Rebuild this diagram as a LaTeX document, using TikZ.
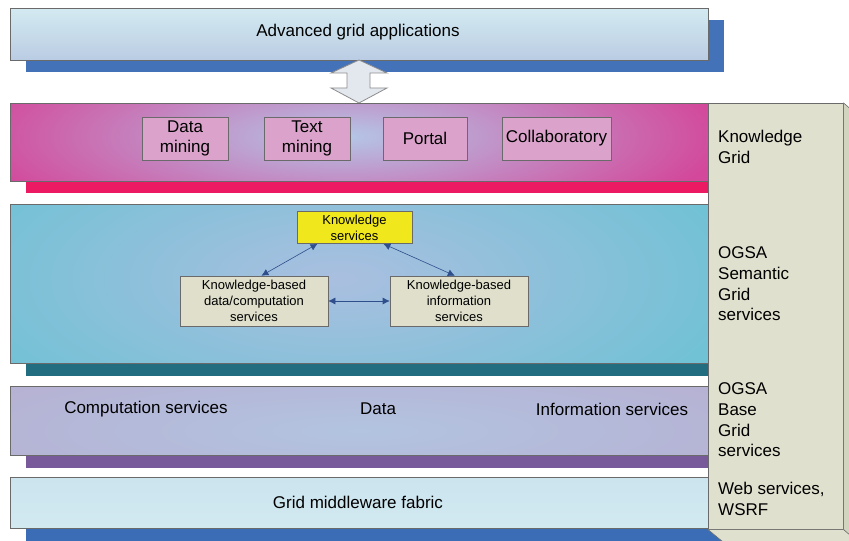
\documentclass[tikz,border=0pt]{standalone}
\usepackage{fontspec}
\setmainfont{Liberation Sans}
\usetikzlibrary{arrows.meta,calc}
\definecolor{topA}{HTML}{D3EAF1}
\definecolor{topB}{HTML}{BACCE3}
\definecolor{topShadow}{HTML}{4472B8}
\definecolor{pinkOut}{HTML}{D3489B}
\definecolor{pinkIn}{HTML}{B4C6E6}
\definecolor{pinkShadow}{HTML}{EC1A63}
\definecolor{pinkBox}{HTML}{DBA3CB}
\definecolor{cyanOut}{HTML}{68C2D3}
\definecolor{cyanIn}{HTML}{AABFE0}
\definecolor{cyanShadow}{HTML}{226E80}
\definecolor{purpOut}{HTML}{B9A6CC}
\definecolor{purpIn}{HTML}{B2C4E0}
\definecolor{purpShadow}{HTML}{78599A}
\definecolor{botA}{HTML}{CBE4EE}
\definecolor{botB}{HTML}{D2E9F0}
\definecolor{botShadow}{HTML}{3B6DB7}
\definecolor{panelFill}{HTML}{DFE0CD}
\definecolor{panelSide}{HTML}{D3D4BF}
\definecolor{edgeGray}{HTML}{6A6A6A}
\definecolor{ksYellow}{HTML}{F0E81C}
\definecolor{beigeBox}{HTML}{DFDFCC}
\definecolor{arrBlue}{HTML}{2E4E8C}
\definecolor{bigArrFill}{HTML}{E3E8EF}
\definecolor{bigArrEdge}{HTML}{8C8C8C}
\begin{document}
\begin{tikzpicture}[x=1bp,y=-1bp,
  bigtext/.style={font=\fontsize{17bp}{20.6bp}\selectfont},
  smalltext/.style={font=\fontsize{13bp}{16bp}\selectfont},
  layer/.style={draw=edgeGray, line width=0.6bp, anchor=north west, inner sep=0pt, minimum width=698bp, bigtext},
  pbox/.style={draw=edgeGray, line width=0.6bp, fill=pinkBox, minimum height=43bp, inner sep=0pt, align=center, bigtext},
  cbox/.style={draw=edgeGray, line width=0.6bp, inner sep=0pt, align=center, smalltext},
  biarrow/.style={{Latex[length=7bp,width=7bp]}-{Latex[length=7bp,width=7bp]}, draw=arrBlue, line width=0.6bp},
  paneltext/.style={anchor=west, inner sep=0pt, align=left, bigtext},
  plain/.style={inner sep=0pt, bigtext}]
\useasboundingbox (0,0) rectangle (849,541);
\clip (0,0) rectangle (849,541);

% top box
\fill[topShadow] (26,20) rectangle (724,72);
\node[layer, minimum height=52bp, top color=topA, bottom color=topB] (apps) at (10,8) {};
\node[plain] (appstxt) at (358,32) {Advanced grid applications};

% big double arrow
\draw[fill=bigArrFill, draw=bigArrEdge, line width=0.8bp] (359,60) -- (387,73) -- (370,73) -- (370,88) -- (387,88) -- (359,103) -- (331,88) -- (347,88) -- (347,73) -- (331,73) -- cycle;

% pink layer
\fill[pinkShadow] (26,181) rectangle (708,193);
\node[layer, minimum height=78bp, fill=pinkOut,
  path picture={\shade[inner color=pinkIn, outer color=pinkOut] ($(path picture bounding box.center)+(-15,-6)$) ellipse [x radius=380bp, y radius=100bp];}] (kg) at (10,103) {};
\node[pbox, minimum width=86bp] (dm) at (185,138.5) {Data\\mining};
\node[pbox, minimum width=86bp] (tm) at (307,138.5) {Text\\mining};
\node[pbox, minimum width=84bp] (portal) at (425,138.5) {Portal};
\node[pbox, minimum width=109bp] (collab) at (556.5,138.5) {Collaboratory};

% cyan layer
\fill[cyanShadow] (26,363) rectangle (708,376);
\node[layer, minimum height=159bp, fill=cyanOut,
  path picture={\shade[inner color=cyanIn, outer color=cyanOut] ($(path picture bounding box.center)+(-20,-5)$) ellipse [x radius=470bp, y radius=190bp];}] (sem) at (10,204) {};
\node[cbox, fill=ksYellow, minimum width=115bp, minimum height=32bp] (ks) at (354.5,227.5) {Knowledge\\services};
\node[cbox, fill=beigeBox, minimum width=148bp, minimum height=50bp] (kd) at (254,301) {Knowledge-based\\data/computation\\services};
\node[cbox, fill=beigeBox, minimum width=138bp, minimum height=50bp] (ki) at (459,301) {Knowledge-based\\information\\services};
\draw[biarrow] ($(ks.south west)!0.18!(ks.south east)$) -- ($(kd.north west)!0.55!(kd.north east)$);
\draw[biarrow] ($(ks.south west)!0.75!(ks.south east)$) -- ($(ki.north west)!0.47!(ki.north east)$);
\draw[biarrow] (kd.east) -- (ki.west);

% purple layer
\fill[purpShadow] (26,455) rectangle (708,468);
\node[layer, minimum height=69bp, fill=purpOut,
  path picture={\shade[inner color=purpIn, outer color=purpOut] ($(path picture bounding box.center)+(0,10)$) ellipse [x radius=700bp, y radius=120bp];}] (base) at (10,386) {};
\node[plain] (comp) at (146,409) {Computation services};
\node[plain] (data) at (378,409) {Data};
\node[plain] (info) at (612,409) {Information services};

% bottom layer
\fill[botShadow] (26,528) rectangle (730,541);
\node[layer, minimum height=51bp, top color=botA, bottom color=botB] (fabric) at (10,477) {};
\node[plain] (fabtxt) at (358,502) {Grid middleware fabric};

% right panel (3D)
\node[draw=edgeGray, line width=0.6bp, fill=panelFill, anchor=north west, inner sep=0pt, minimum width=135bp, minimum height=426bp] (panel) at (708,103) {};
\filldraw[fill=panelSide, draw=edgeGray, line width=0.6bp] (panel.north east) -- ++(14,12) -- ++(0,430) -- (panel.south east) -- cycle;
\filldraw[fill=panelFill, draw=edgeGray, line width=0.6bp] (panel.south west) -- (panel.south east) -- ++(14,12) -- ++(-135,0) -- cycle;
\node[paneltext] (t1) at (718,147) {Knowledge\\Grid};
\node[paneltext] (t2) at (718,284) {OGSA\\Semantic\\Grid\\services};
\node[paneltext] (t3) at (718,420) {OGSA\\Base\\Grid\\services};
\node[paneltext] (t4) at (718,499) {Web services,\\WSRF};
\end{tikzpicture}
\end{document}
